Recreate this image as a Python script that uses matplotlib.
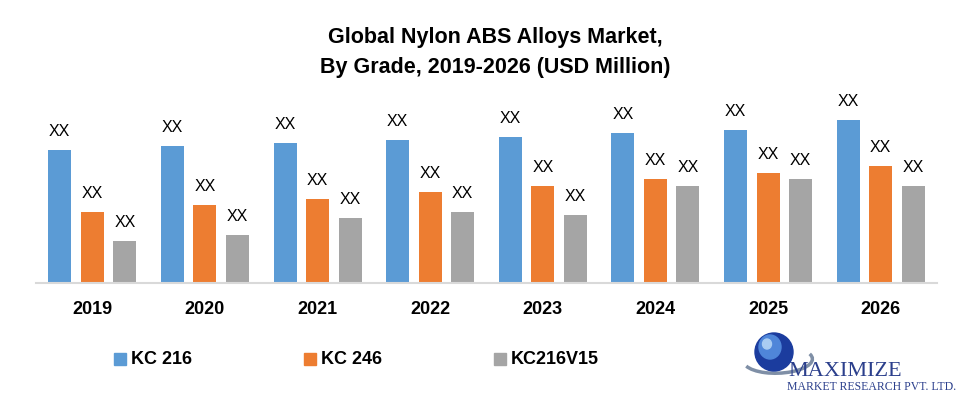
import numpy as np
import matplotlib.pyplot as plt
from matplotlib.patches import Ellipse, Rectangle, Arc

# data (arbitrary units)
years = ['2019', '2020', '2021', '2022', '2023', '2024', '2025', '2026']
kc216 = [133, 137, 140, 143, 146, 150, 153, 163]
kc246 = [71, 78, 84, 91, 97, 104, 110, 117]
kc216v15 = [42, 48, 65, 71, 68, 97, 104, 97]
series_names = ['KC 216', 'KC 246', 'KC216V15']
colors = ['#5B9BD5', '#ED7D31', '#A5A5A5']

sans = ['Liberation Sans', 'DejaVu Sans']
serif = ['Liberation Serif', 'DejaVu Serif']

W, H = 958, 394
fig = plt.figure(figsize=(W / 100, H / 100), dpi=100)

# axes placed in pixel terms
ax = fig.add_axes([36 / W, (H - 283) / H, (937 - 36) / W, 193 / H])

x = np.arange(len(years))
step = 0.289
width = 0.204
for i, (vals, c) in enumerate(zip([kc216, kc246, kc216v15], colors)):
    pos = x + (i - 1) * step
    ax.bar(pos, vals, width=width, color=c, zorder=2)
    for p, v in zip(pos, vals):
        ax.text(p, v + 11, 'XX', ha='center', va='bottom', fontsize=11.5, family=sans)

ax.set_xlim(-0.5, len(years) - 0.5)
ax.set_ylim(0, 193)
for s in ['top', 'right', 'left']:
    ax.spines[s].set_visible(False)
ax.spines['bottom'].set_color('#D9D9D9')
ax.spines['bottom'].set_linewidth(1.5)
ax.set_yticks([])
ax.set_xticks(x)
ax.set_xticklabels(years, fontsize=13, fontweight='bold', family=sans)
ax.tick_params(axis='x', length=0, pad=13)

# title
fig.text(495 / W, 1 - 38 / H, 'Global Nylon ABS Alloys Market,', ha='center', va='center',
         fontsize=15.5, fontweight='bold', family=sans)
fig.text(495 / W, 1 - 68 / H, 'By Grade, 2019-2026 (USD Million)', ha='center', va='center',
         fontsize=15.5, fontweight='bold', family=sans)

# legend
leg_x = [114, 304, 494]
for lx, name, c in zip(leg_x, series_names, colors):
    fig.patches.append(Rectangle((lx / W, 1 - 365 / H), 12 / W, 12 / H,
                                 transform=fig.transFigure, color=c))
    fig.text((lx + 17) / W, 1 - 359 / H, name, ha='left', va='center',
             fontsize=13, fontweight='bold', family=sans)

# logo
fig.patches.append(Arc((778 / W, 1 - 360 / H), 70 / W, 26 / H, angle=25, theta1=180, theta2=360,
                       transform=fig.transFigure, color='#7F8FA6', linewidth=2.5))
fig.patches.append(Ellipse((774 / W, 1 - 352 / H), 38 / W, 38 / H,
                           transform=fig.transFigure, color='#1B3C9E'))
fig.patches.append(Ellipse((770 / W, 1 - 347 / H), 22 / W, 24 / H,
                           transform=fig.transFigure, color='#4F86D9'))
fig.patches.append(Ellipse((767 / W, 1 - 344 / H), 9 / W, 10 / H,
                           transform=fig.transFigure, color='#A9CCF2'))
fig.text(845 / W, 1 - 371 / H, 'MAXIMIZE', ha='center', va='center',
         fontsize=16, color='#2B3F8C', family=serif)
fig.text(872 / W, 1 - 387 / H, 'MARKET RESEARCH PVT. LTD.', ha='center', va='center',
         fontsize=8.5, color='#2B3F8C', family=serif)

fig.savefig('out.png', dpi=100)
